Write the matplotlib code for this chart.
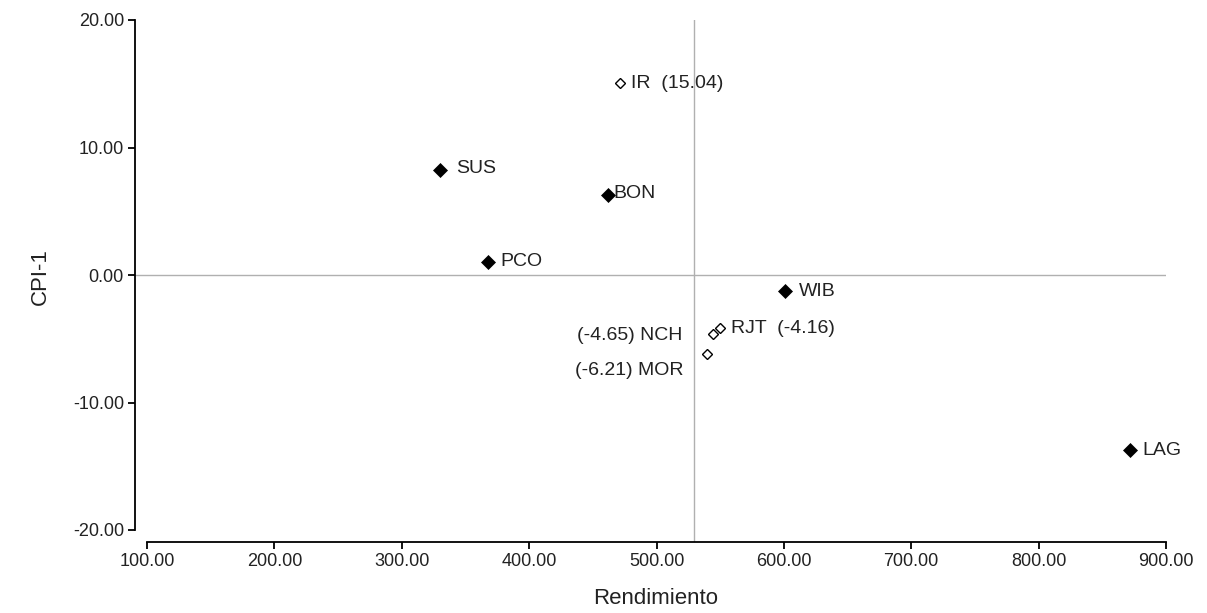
import matplotlib
matplotlib.use("Agg")
import matplotlib.pyplot as plt

plt.rcParams['font.family'] = ['Liberation Sans', 'DejaVu Sans']

# Data
names = ["IR", "SUS", "BON", "PCO", "WIB", "RJT", "NCH", "MOR", "LAG"]
rendimiento = [471.3, 330.4, 462.0, 368.0, 600.8, 549.8, 544.2, 539.6, 871.6]
cpi1 = [15.04, 8.27, 6.25, 1.02, -1.28, -4.16, -4.65, -6.21, -13.73]
hollow = [True, False, False, False, False, True, True, True, False]
label_texts = ["IR  (15.04)", "SUS", "BON", "PCO", "WIB", "RJT  (-4.16)",
               "(-4.65) NCH", "(-6.21) MOR", "LAG"]
x_ref = 529.4
y_ref = 0.0
x_ticks = [100, 200, 300, 400, 500, 600, 700, 800, 900]
y_ticks = [-20, -10, 0, 10, 20]

# label placement (offset in points, alignment)
label_style = {
    "IR": ((8, 0), "left"),
    "SUS": ((11, 1), "left"),
    "BON": ((4, 1), "left"),
    "PCO": ((9, 0), "left"),
    "WIB": ((10, 0), "left"),
    "RJT": ((8, 0), "left"),
    "NCH": ((-22, -1), "right"),
    "MOR": ((-17, -12), "right"),
    "LAG": ((9, 0), "left"),
}

W, H = 1207, 613
fig = plt.figure(figsize=(W / 100, H / 100), dpi=100)
left, right, top, bottom = 135, 1166, 20, 542
ax = fig.add_axes([left / W, 1 - bottom / H, (right - left) / W, (bottom - top) / H])

px_per_x = (1166 - 147) / 800.0
px_per_y = (530 - 20) / 40.0
ax.set_xlim(100 - (147 - left) / px_per_x, 900)
ax.set_ylim(-20 - (bottom - 530) / px_per_y, 20)

# reference lines
ax.axhline(y_ref, color="#b0b0b0", lw=1.0, zorder=1)
ax.axvline(x_ref, color="#b0b0b0", lw=1.0, zorder=1)

for n, x, y, h in zip(names, rendimiento, cpi1, hollow):
    if h:
        ax.plot(x, y, marker="D", ms=5.5, mfc="white", mec="black", mew=1.0,
                ls="none", zorder=3)
    else:
        ax.plot(x, y, marker="D", ms=7, mfc="black", mec="black", mew=0.5,
                ls="none", zorder=3)

for n, x, y, t in zip(names, rendimiento, cpi1, label_texts):
    off, ha = label_style[n]
    ax.annotate(t, (x, y), xytext=off, textcoords="offset points",
                ha=ha, va="center", fontsize=14, color="#222222")

for s in ["top", "right"]:
    ax.spines[s].set_visible(False)
ax.spines["left"].set_bounds(-20, 20)
ax.spines["bottom"].set_bounds(100, 900)
ax.spines["left"].set_linewidth(1.3)
ax.spines["bottom"].set_linewidth(1.3)

ax.set_xticks(x_ticks)
ax.set_xticklabels([f"{v:.2f}" for v in x_ticks])
ax.set_yticks(y_ticks)
ax.set_yticklabels([f"{v:.2f}" for v in y_ticks])
ax.tick_params(axis="both", direction="out", length=5, width=1.3,
               labelsize=13, labelcolor="#222222", pad=3)

ax.set_xlabel("Rendimiento", fontsize=16, color="#222222")
ax.set_ylabel("CPI-1", fontsize=16, color="#222222")
ax.xaxis.label.set_va("center")
ax.yaxis.label.set_va("center")
ax.xaxis.set_label_coords((656 - left) / (right - left), -(598 - bottom) / (bottom - top))
ax.yaxis.set_label_coords((40 - left) / (right - left), (bottom - 277) / (bottom - top))

fig.savefig("out.png", dpi=100, facecolor="white")
